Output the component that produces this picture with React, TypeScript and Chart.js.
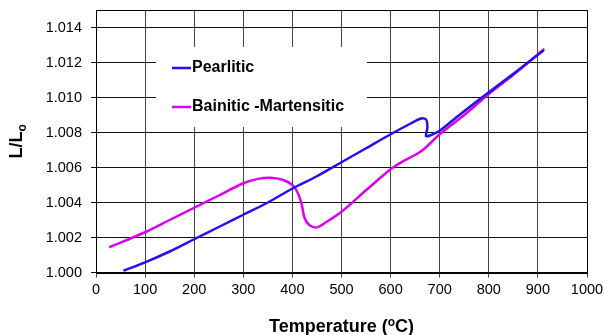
import { useEffect, useRef } from "react";
import { Chart, registerables } from "chart.js";

Chart.register(...registerables);

const SERIES_NAMES = ["Pearlitic", "Bainitic -Martensitic"];
const SERIES_COLORS = ["#2210EE", "#DD00EE"];

const PEARLITIC_T = [56, 100, 150, 200, 250, 300, 350, 400, 450, 500, 550, 600, 640, 662, 672, 675, 672, 678, 700, 740, 800, 850, 880, 912];
const PEARLITIC_L = [1.0001, 1.00058, 1.0012, 1.0019, 1.0026, 1.0033, 1.004, 1.0048, 1.0055, 1.0063, 1.0071, 1.0079, 1.0085, 1.0088, 1.00875, 1.0083, 1.0078, 1.0078, 1.0081, 1.009, 1.0103, 1.01135, 1.012, 1.0127];

const BAINITIC_T = [27, 100, 150, 200, 250, 300, 330, 355, 380, 400, 410, 418, 425, 435, 450, 470, 500, 550, 600, 625, 655, 670, 700, 750, 800, 850, 913];
const BAINITIC_L = [1.00144, 1.0023, 1.003, 1.0037, 1.0044, 1.0051, 1.00535, 1.00542, 1.0053, 1.005, 1.0046, 1.004, 1.0031, 1.0027, 1.00258, 1.0029, 1.00347, 1.0047, 1.0059, 1.00635, 1.0068, 1.0071, 1.0079, 1.009, 1.0102, 1.0113, 1.01278];

const X_TICKS = [0, 100, 200, 300, 400, 500, 600, 700, 800, 900, 1000];
const Y_TICKS = [1.0, 1.002, 1.004, 1.006, 1.008, 1.01, 1.012, 1.014];
const X_RANGE = [0, 1000];
const Y_RANGE = [1.0, 1.015];

const X_TITLE_MAIN = "Temperature (";
const X_TITLE_SUP = "o";
const X_TITLE_END = "C)";
const Y_TITLE_MAIN = "L/L";
const Y_TITLE_SUB = "o";

const FONT = "'Liberation Sans', Arial, sans-serif";

const decorPlugin = {
  id: "decor",
  beforeDatasetsDraw(chart: any) {
    const ctx = chart.ctx;
    ctx.save();
    // legend box (covers gridlines)
    const bx = 156;
    const by = 47;
    ctx.fillStyle = "#ffffff";
    ctx.fillRect(bx, by, 211, 80);
    ctx.font = `bold 16px ${FONT}`;
    ctx.textBaseline = "middle";
    ctx.textAlign = "left";
    const rows = [by + 21, by + 60];
    chart.data.datasets.forEach((ds: any, i: number) => {
      const y = rows[i];
      ctx.strokeStyle = ds.borderColor;
      ctx.lineWidth = 2.5;
      ctx.beginPath();
      ctx.moveTo(bx + 16, y);
      ctx.lineTo(bx + 35, y);
      ctx.stroke();
      ctx.fillStyle = "#000";
      ctx.fillText(ds.label, bx + 36, y);
    });
    ctx.restore();
  },
  afterDraw(chart: any) {
    const ctx = chart.ctx;
    const a = chart.chartArea;
    ctx.save();
    // plot border
    ctx.strokeStyle = "#000";
    ctx.lineWidth = 1;
    ctx.strokeRect(Math.round(a.left) + 0.5, Math.round(a.top) + 0.5, Math.round(a.right - a.left), Math.round(a.bottom - a.top));
    // x title
    ctx.fillStyle = "#000";
    ctx.textBaseline = "alphabetic";
    ctx.textAlign = "left";
    const big = `bold 18px ${FONT}`;
    const small = `bold 12px ${FONT}`;
    ctx.font = big;
    const w1 = ctx.measureText(X_TITLE_MAIN).width;
    const w3 = ctx.measureText(X_TITLE_END).width;
    ctx.font = small;
    const w2 = ctx.measureText(X_TITLE_SUP).width;
    const total = w1 + w2 + w3;
    const cx = (a.left + a.right) / 2;
    let x = cx - total / 2;
    const base = 331.5;
    ctx.font = big;
    ctx.fillText(X_TITLE_MAIN, x, base);
    x += w1;
    ctx.font = small;
    ctx.fillText(X_TITLE_SUP, x, base - 6);
    x += w2;
    ctx.font = big;
    ctx.fillText(X_TITLE_END, x, base);
    // y title
    ctx.translate(22, (a.top + a.bottom) / 2);
    ctx.rotate(-Math.PI / 2);
    ctx.font = big;
    const m1 = ctx.measureText(Y_TITLE_MAIN).width;
    ctx.font = small;
    const m2 = ctx.measureText(Y_TITLE_SUB).width;
    let yx = -(m1 + m2) / 2;
    ctx.font = big;
    ctx.fillText(Y_TITLE_MAIN, yx, 0);
    yx += m1;
    ctx.font = small;
    ctx.fillText(Y_TITLE_SUB, yx, 4);
    ctx.restore();
  },
};

export default function App() {
  const ref = useRef<HTMLCanvasElement | null>(null);
  useEffect(() => {
    if (!ref.current) return;
    const toPts = (xs: number[], ys: number[]) => xs.map((x, i) => ({ x, y: ys[i] }));
    const chart = new Chart(ref.current, {
      type: "line",
      data: {
        datasets: [
          {
            label: SERIES_NAMES[0],
            data: toPts(PEARLITIC_T, PEARLITIC_L),
            borderColor: SERIES_COLORS[0],
            borderWidth: 2.5,
            pointRadius: 0,
            tension: 0.3,
            fill: false,
          },
          {
            label: SERIES_NAMES[1],
            data: toPts(BAINITIC_T, BAINITIC_L),
            borderColor: SERIES_COLORS[1],
            borderWidth: 2.5,
            pointRadius: 0,
            tension: 0.3,
            fill: false,
          },
        ],
      },
      options: {
        responsive: false,
        animation: false,
        devicePixelRatio: 1,
        layout: { padding: { left: 0, right: 17, top: 10, bottom: 0 } },
        plugins: {
          legend: { display: false },
          tooltip: { enabled: false },
          title: { display: false },
        },
        scales: {
          x: {
            type: "linear",
            min: X_RANGE[0],
            max: X_RANGE[1],
            afterBuildTicks: (s: any) => {
              s.ticks = X_TICKS.map((v) => ({ value: v }));
            },
            afterFit: (s: any) => {
              s.height = 62.5;
              s.paddingLeft = 0;
              s.paddingRight = 0;
            },
            ticks: {
              color: "#000",
              font: { family: FONT, size: 14.5 },
              padding: 4,
              maxRotation: 0,
              autoSkip: false,
              callback: (v: any) => String(v),
            },
            grid: { color: "#444", tickLength: 5, lineWidth: 1 },
            border: { color: "#000", width: 1 },
          },
          y: {
            type: "linear",
            min: Y_RANGE[0],
            max: Y_RANGE[1],
            afterBuildTicks: (s: any) => {
              s.ticks = Y_TICKS.map((v) => ({ value: v }));
            },
            afterFit: (s: any) => {
              s.width = 96;
              s.paddingTop = 0;
              s.paddingBottom = 0;
            },
            ticks: {
              color: "#000",
              font: { family: FONT, size: 14.5 },
              padding: 9,
              callback: (v: any) => Number(v).toFixed(3),
              autoSkip: false,
            },
            grid: { color: "#111", tickLength: 5, lineWidth: 1 },
            border: { color: "#000", width: 1 },
          },
        },
      },
      plugins: [decorPlugin],
    });
    return () => chart.destroy();
  }, []);
  return (
    <div style={{ position: "fixed", left: 0, top: 0, width: 604, height: 335, background: "#fff" }}>
      <canvas ref={ref} width={604} height={335} />
    </div>
  );
}
